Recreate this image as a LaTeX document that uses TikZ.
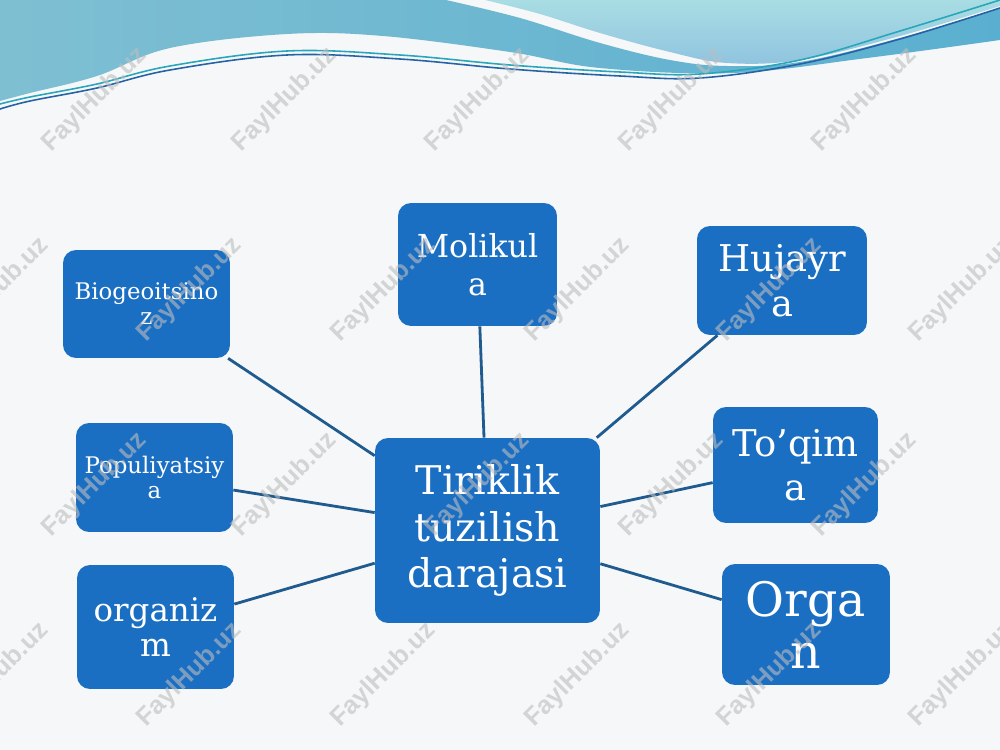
\documentclass[tikz,border=0pt]{standalone}
\usepackage{fontspec}
\setmainfont{DejaVu Serif}
\newfontfamily\wmfont{Liberation Sans}
\definecolor{bgc}{HTML}{F6F7F8}
\definecolor{boxblue}{HTML}{1B6FC3}
\definecolor{linkc}{HTML}{1F5B8F}
\definecolor{wavedark}{HTML}{7FBFD2}
\definecolor{waveband}{HTML}{5AAFD0}
\definecolor{wavelightA}{HTML}{A9DDE3}
\definecolor{wavelightB}{HTML}{90C4E0}
\definecolor{lineteal}{HTML}{29A7BA}
\definecolor{lineblue}{HTML}{2563A6}
\definecolor{wmc}{HTML}{BDBDBD}
\begin{document}
\begin{tikzpicture}[x=0.02cm,y=-0.02cm,
  box/.style={fill=boxblue, rounded corners=0.26cm, text=white, align=center, inner sep=0pt},
  link/.style={draw=linkc, line width=1.6pt},
  wm/.style={font=\wmfont\bfseries\fontsize{14.5}{14.5}\selectfont, text=wmc, text opacity=0.6, rotate=45, inner sep=0pt}]
\useasboundingbox (0,0) rectangle (1000,750);
\fill[bgc] (0,0) rectangle (1000,750);
% waves
\shade[left color=wavedark, right color=waveband]
  (0,0) -- (446,0) -- plot[smooth, tension=0.6] coordinates {(446,0) (520,18) (600,43) (670,60) (727,66) (800,62) (900,38) (1000,8)}
  -- (1000,40) -- plot[smooth, tension=0.6] coordinates {(1000,40) (867,58) (733,73) (600,68) (510,52) (383,36) (287,34) (170,48) (97,76) (30,93) (0,101)} -- cycle;
\shade[top color=wavelightA, bottom color=wavelightB]
  (485,0) -- (1000,0) -- (1000,6) -- plot[smooth, tension=0.6] coordinates {(1000,6) (900,36) (800,60) (727,63) (670,52) (600,33) (540,14) (485,0)} -- cycle;
\draw[lineteal, line width=0.9pt] plot[smooth, tension=0.6] coordinates {(0,104) (30,97) (97,84) (170,66) (287,51) (400,55) (510,65) (620,72) (700,74) (800,60) (900,31) (1000,0)};
\draw[lineblue, line width=0.9pt] plot[smooth, tension=0.6] coordinates {(0,109) (30,101) (97,88) (170,70) (287,55) (400,59) (510,69) (620,76) (700,78) (800,64) (900,39) (1000,8)};
% boxes
\node[box, minimum width=4.50cm, minimum height=3.70cm, font=\fontsize{22.5}{26.6}\selectfont] (ctr) at (487.5,530.5) {Tiriklik\\tuzilish\\darajasi};
\node[box, minimum width=3.34cm, minimum height=2.16cm, font=\fontsize{13}{14.2}\selectfont] (bio) at (146.5,304) {Biogeoitsino\\z};
\node[box, minimum width=3.18cm, minimum height=2.46cm, font=\fontsize{18}{21.5}\selectfont] (mol) at (477.5,264.5) {Molikul\\a};
\node[box, minimum width=3.40cm, minimum height=2.18cm, font=\fontsize{21}{25.5}\selectfont] (huj) at (782,280.5) {Hujayr\\a};
\node[box, minimum width=3.14cm, minimum height=2.18cm, font=\fontsize{13}{14.2}\selectfont] (pop) at (154.5,477.5) {Populiyatsiy\\a};
\node[box, minimum width=3.30cm, minimum height=2.32cm, font=\fontsize{21}{25}\selectfont] (toq) at (795.5,465) {To’qim\\a};
\node[box, minimum width=3.14cm, minimum height=2.48cm, font=\fontsize{18.5}{20.4}\selectfont] (org) at (155.5,627) {organiz\\m};
\node[box, minimum width=3.36cm, minimum height=2.42cm, font=\fontsize{27}{29.5}\selectfont] (organ) at (806,624.5) {Orga\\n};
% links
\foreach \n in {bio,mol,huj,pop,toq,org,organ} \draw[link] (\n) -- (ctr);
% watermarks
\foreach \x [count=\i] in {95,285,478,672,865} {
  \node[wm] (wma\i) at (\x,100) {FaylHub.uz};
  \node[wm] (wmc\i) at (\x,485) {FaylHub.uz};
}
\foreach \x [count=\i] in {-3,190,384,578,770,962} {
  \node[wm] (wmb\i) at (\x,290) {FaylHub.uz};
  \node[wm] (wmd\i) at (\x,675) {FaylHub.uz};
}
\end{tikzpicture}
\end{document}
